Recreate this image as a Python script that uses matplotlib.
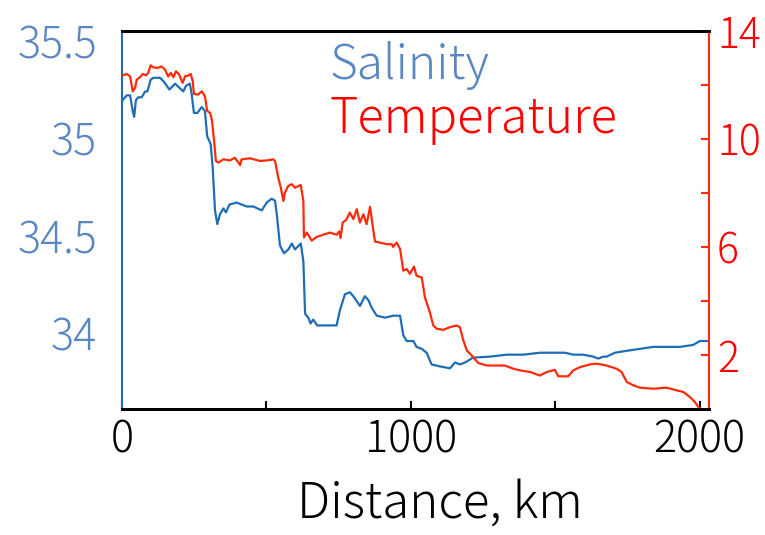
import matplotlib
matplotlib.use('Agg')
import matplotlib.pyplot as plt
from matplotlib.ticker import FixedLocator, NullFormatter

plt.rcParams['font.family'] = ['Noto Sans CJK JP', 'DejaVu Sans']
plt.rcParams['font.weight'] = 'light'
plt.rcParams['axes.labelweight'] = 'light'

# Salinity along the track (distance in km, salinity in PSU)
sal_dist = [2, 16, 28, 37, 42, 48, 56, 68, 80, 88, 99, 108, 132, 145, 164, 184, 198, 212, 222, 235,
            241, 249, 261, 276, 287, 295, 307, 314, 322, 330, 339, 351, 360, 372, 397, 432, 455, 484,
            501, 518, 530, 536, 547, 561, 576, 588, 599, 619, 628, 634, 645, 653, 662, 676, 709, 743,
            755, 772, 789, 801, 824, 841, 853, 865, 882, 911, 939, 963, 974, 986, 1009, 1020, 1038,
            1055, 1072, 1101, 1136, 1153, 1170, 1188, 1216, 1274, 1332, 1390, 1447, 1493, 1534, 1563,
            1597, 1632, 1649, 1667, 1678, 1707, 1748, 1794, 1840, 1886, 1932, 1978, 2001, 2025]
salinity = [35.195, 35.22, 35.22, 35.14, 35.11, 35.195, 35.21, 35.21, 35.24, 35.24, 35.30, 35.31,
            35.31, 35.29, 35.25, 35.28, 35.26, 35.24, 35.27, 35.28, 35.23, 35.13, 35.13, 35.16,
            35.14, 35.01, 34.97, 34.85, 34.63, 34.56, 34.61, 34.64, 34.62, 34.66, 34.67, 34.65,
            34.65, 34.63, 34.67, 34.69, 34.68, 34.61, 34.45, 34.41, 34.43, 34.46, 34.43, 34.46,
            34.37, 34.10, 34.08, 34.05, 34.07, 34.04, 34.04, 34.04, 34.12, 34.20, 34.21, 34.19,
            34.14, 34.19, 34.17, 34.13, 34.09, 34.08, 34.09, 34.09, 33.99, 33.96, 33.96, 33.93,
            33.92, 33.90, 33.84, 33.83, 33.82, 33.85, 33.84, 33.85, 33.875, 33.88, 33.89, 33.89,
            33.90, 33.90, 33.90, 33.89, 33.89, 33.88, 33.87, 33.88, 33.88, 33.90, 33.91, 33.92,
            33.93, 33.93, 33.93, 33.94, 33.96, 33.96]

# Temperature along the track (distance in km, temperature in deg C)
temp_dist = [2, 16, 28, 37, 45, 51, 62, 72, 83, 91, 99, 108, 122, 137, 149, 160, 169, 178, 187, 198,
             210, 218, 230, 238, 245, 249, 264, 276, 287, 295, 305, 311, 319, 325, 333, 351, 374, 391,
             409, 414, 443, 478, 501, 524, 530, 541, 550, 559, 564, 576, 588, 599, 619, 628, 630, 640,
             657, 674, 697, 720, 743, 752, 757, 764, 776, 789, 801, 813, 824, 836, 847, 859, 865, 876,
             893, 917, 934, 939, 951, 963, 974, 986, 997, 1011, 1020, 1038, 1049, 1066, 1078, 1090,
             1113, 1136, 1159, 1170, 1182, 1194, 1211, 1234, 1263, 1292, 1326, 1355, 1378, 1413, 1447,
             1471, 1499, 1511, 1545, 1563, 1586, 1620, 1644, 1678, 1713, 1730, 1748, 1770, 1794, 1840,
             1886, 1921, 1944, 1967, 1984, 1996, 2007, 2025]
temperature = [12.36, 12.41, 12.32, 11.77, 11.89, 12.20, 12.29, 12.41, 12.36, 12.45, 12.73, 12.66,
               12.63, 12.69, 12.57, 12.32, 12.45, 12.29, 12.51, 12.39, 12.08, 12.32, 12.36, 12.41,
               12.14, 11.67, 11.65, 11.77, 11.59, 11.04, 10.97, 10.73, 9.93, 9.19, 9.13, 9.25, 9.21,
               9.31, 9.04, 9.25, 9.29, 9.19, 9.21, 9.25, 9.19, 8.57, 8.20, 7.71, 8.02, 8.27, 8.33,
               8.20, 8.30, 7.71, 6.36, 6.54, 6.24, 6.38, 6.46, 6.54, 6.46, 6.58, 6.34, 6.91, 7.00,
               7.28, 7.04, 7.41, 6.91, 7.22, 6.85, 7.49, 7.04, 6.21, 6.17, 6.11, 6.11, 6.01, 6.17,
               5.93, 5.13, 5.19, 5.01, 5.28, 4.94, 4.88, 4.14, 3.59, 3.10, 2.98, 2.94, 3.04, 3.10,
               3.04, 2.55, 2.18, 1.99, 1.71, 1.62, 1.62, 1.62, 1.50, 1.44, 1.38, 1.25, 1.38, 1.46,
               1.22, 1.22, 1.44, 1.56, 1.66, 1.69, 1.62, 1.50, 1.38, 1.01, 0.89, 0.80, 0.76, 0.80,
               0.70, 0.64, 0.45, 0.27, 0.08, 0.0, 0.0]

x_ticks = [0, 1000, 2000]
x_minor = [500, 1500]
sal_ticks = [34, 34.5, 35, 35.5]
sal_labels = ['34', '34.5', '35', '35.5']
temp_ticks = [2, 6, 10, 14]
temp_minor = [0, 4, 8, 12]

blue = '#1f6db5'
blue_text = '#5a87c2'
red = '#ff2a0a'
red_text = '#ff0000'

fig = plt.figure(figsize=(7.65, 5.35), dpi=100)
ax = fig.add_axes([0.1595, 0.235, 0.767, 0.707])
ax2 = ax.twinx()

ax.plot(sal_dist, salinity, color=blue, lw=1.6)
ax2.plot(temp_dist, temperature, color=red, lw=1.6)

ax.set_xlim(0, 2032)
ax.set_ylim(33.61, 35.55)
ax2.set_ylim(0, 14)

ax.xaxis.set_major_locator(FixedLocator(x_ticks))
ax.xaxis.set_minor_locator(FixedLocator(x_minor))
ax.set_xticklabels([str(t) for t in x_ticks])
ax.tick_params(axis='x', which='both', direction='in', length=6, width=1.5, color='black',
               labelsize=31, pad=6)

ax.set_yticks(sal_ticks)
ax.set_yticklabels(sal_labels)
ax.tick_params(axis='y', length=0, labelsize=31, labelcolor=blue_text, pad=18)

ax2.yaxis.set_major_locator(FixedLocator(temp_ticks))
ax2.yaxis.set_minor_locator(FixedLocator(temp_minor))
ax2.yaxis.set_minor_formatter(NullFormatter())
ax2.tick_params(axis='y', which='both', direction='in', length=6, width=1.5, color=red,
                labelsize=29.5, labelcolor=red_text, pad=6)

for a in (ax, ax2):
    a.spines['top'].set_color('black')
    a.spines['top'].set_linewidth(2)
    a.spines['bottom'].set_color('black')
    a.spines['bottom'].set_linewidth(2)
ax.spines['left'].set_color(blue)
ax.spines['left'].set_linewidth(1.5)
ax.spines['right'].set_visible(False)
ax2.spines['left'].set_visible(False)
ax2.spines['right'].set_color(red)
ax2.spines['right'].set_linewidth(1.5)

ax.set_xlabel('Distance, km', fontsize=35.5, va='baseline')
ax.xaxis.set_label_coords(0.541, -0.287)

fig.text(0.431, 0.852, 'Salinity', color=blue_text, fontsize=34.5, va='baseline')
fig.text(0.431, 0.751, 'Temperature', color=red_text, fontsize=35, va='baseline')

fig.savefig('out.png', dpi=100)
